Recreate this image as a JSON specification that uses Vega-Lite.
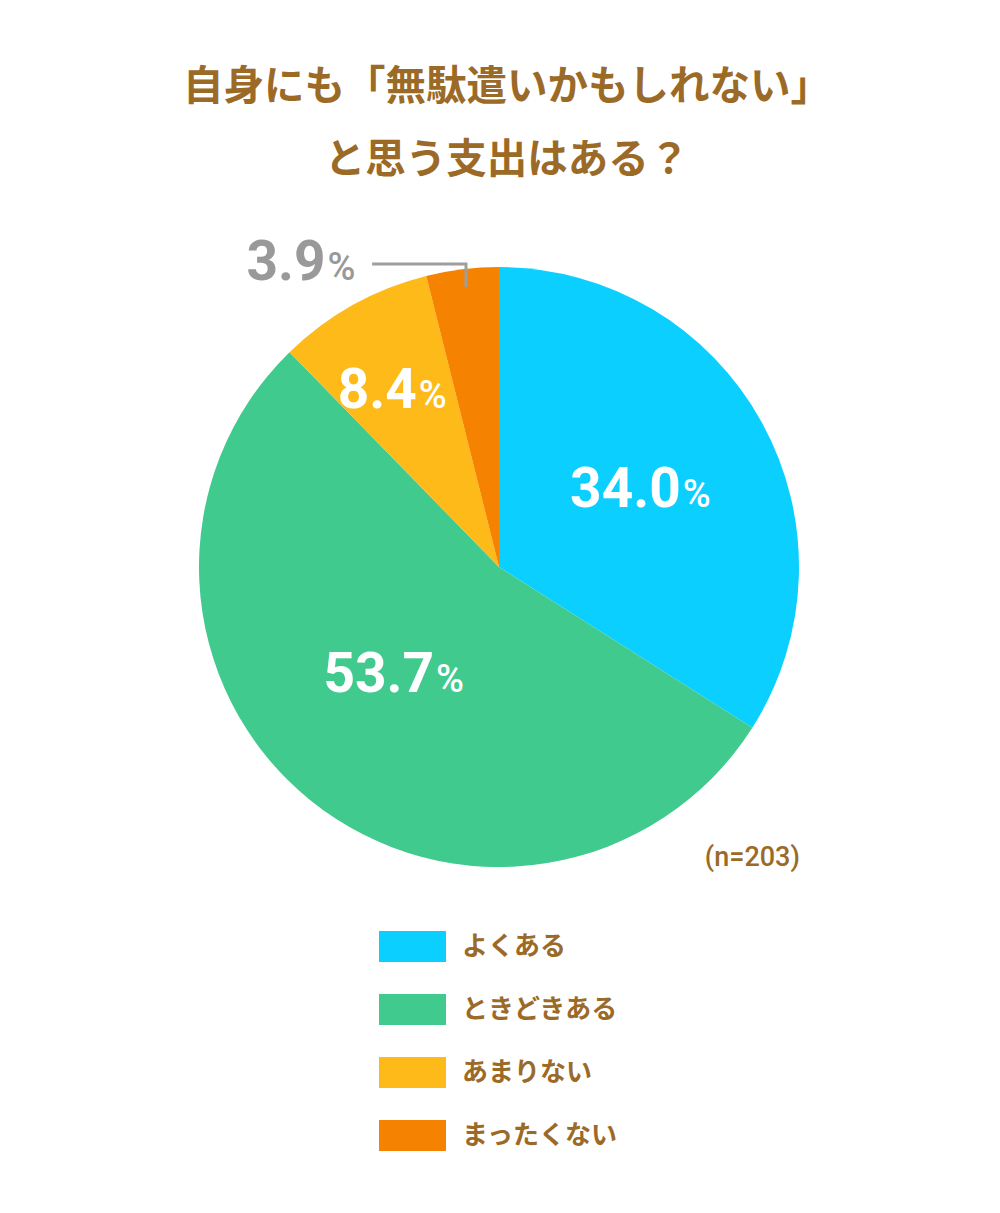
{
  "$schema": "https://vega.github.io/schema/vega-lite/v6.json",
  "width": 600,
  "height": 600,
  "autosize": {"type": "none"},
  "padding": {"left": 199, "top": 267, "right": 201, "bottom": 346},
  "background": "white",
  "config": {"view": {"stroke": null}},
  "title": {
    "text": ["自身にも「無駄遣いかもしれない」", "と思う支出はある？"],
    "font": "Noto Sans CJK JP",
    "fontSize": 40.5,
    "fontWeight": "bold",
    "color": "#9B6A27",
    "lineHeight": 73,
    "offset": 55,
    "dx": 8,
    "anchor": "middle"
  },
  "datasets": {
    "answers": [
      {"k": 1, "answer": "よくある", "pct": 34.0},
      {"k": 2, "answer": "ときどきある", "pct": 53.7},
      {"k": 3, "answer": "あまりない", "pct": 8.4},
      {"k": 4, "answer": "まったくない", "pct": 3.9}
    ],
    "leader": [
      {"p": 1, "x": -0.423, "y": 1.01},
      {"p": 2, "x": -0.11, "y": 1.01},
      {"p": 3, "x": -0.11, "y": 0.933}
    ],
    "notes": [
      {"x": 1.003, "y": -0.997, "note": "(n=203)"}
    ]
  },
  "layer": [
    {
      "data": {"name": "answers"},
      "encoding": {
        "theta": {"field": "pct", "type": "quantitative", "stack": true},
        "order": {"field": "k", "type": "quantitative"}
      },
      "layer": [
        {
          "mark": {"type": "arc", "outerRadius": 300},
          "encoding": {
            "color": {
              "field": "answer",
              "type": "nominal",
              "sort": ["よくある", "ときどきある", "あまりない", "まったくない"],
              "scale": {
                "domain": ["よくある", "ときどきある", "あまりない", "まったくない"],
                "range": ["#0BCFFF", "#40CA8E", "#FDBA19", "#F58200"]
              },
              "legend": {
                "orient": "none",
                "legendX": 180,
                "legendY": 646,
                "title": null,
                "direction": "vertical",
                "symbolType": "M-1,-0.463H1V0.463H-1Z",
                "symbolSize": 4489,
                "symbolStrokeWidth": 0,
                "symbolOpacity": 1,
                "labelFont": "Noto Sans CJK JP",
                "labelFontSize": 26,
                "labelFontWeight": "bold",
                "labelColor": "#9B6A27",
                "labelOffset": 16,
                "labelLimit": 400,
                "rowPadding": 13
              }
            }
          }
        },
        {
          "mark": {"type": "text", "radius": 188, "dx": 17, "dy": 31, "align": "right", "baseline": "alphabetic", "font": "Roboto", "fontSize": 55, "fontWeight": "bold", "color": "white"},
          "encoding": {
            "detail": {"field": "answer"},
            "text": {"condition": {"test": "datum.k == 1", "field": "pct", "type": "quantitative", "format": ".1f"}, "value": ""}
          }
        },
        {
          "mark": {"type": "text", "radius": 188, "dx": 19, "dy": 31, "align": "left", "baseline": "alphabetic", "font": "Roboto", "fontSize": 38, "fontWeight": 500, "color": "white"},
          "encoding": {
            "detail": {"field": "answer"},
            "text": {"condition": {"test": "datum.k == 1", "value": "%"}, "value": ""}
          }
        },
        {
          "mark": {"type": "text", "radius": 138, "dx": 22, "dy": 18, "align": "right", "baseline": "alphabetic", "font": "Roboto", "fontSize": 55, "fontWeight": "bold", "color": "white"},
          "encoding": {
            "detail": {"field": "answer"},
            "text": {"condition": {"test": "datum.k == 2", "field": "pct", "type": "quantitative", "format": ".1f"}, "value": ""}
          }
        },
        {
          "mark": {"type": "text", "radius": 138, "dx": 24, "dy": 18, "align": "left", "baseline": "alphabetic", "font": "Roboto", "fontSize": 38, "fontWeight": 500, "color": "white"},
          "encoding": {
            "detail": {"field": "answer"},
            "text": {"condition": {"test": "datum.k == 2", "value": "%"}, "value": ""}
          }
        },
        {
          "mark": {"type": "text", "radius": 179, "dx": 5, "dy": -3, "align": "right", "baseline": "alphabetic", "font": "Roboto", "fontSize": 55, "fontWeight": "bold", "color": "white"},
          "encoding": {
            "detail": {"field": "answer"},
            "text": {"condition": {"test": "datum.k == 3", "field": "pct", "type": "quantitative", "format": ".1f"}, "value": ""}
          }
        },
        {
          "mark": {"type": "text", "radius": 179, "dx": 7, "dy": -3, "align": "left", "baseline": "alphabetic", "font": "Roboto", "fontSize": 38, "fontWeight": 500, "color": "white"},
          "encoding": {
            "detail": {"field": "answer"},
            "text": {"condition": {"test": "datum.k == 3", "value": "%"}, "value": ""}
          }
        },
        {
          "mark": {"type": "text", "radius": 306, "dx": -136, "dy": 17, "align": "right", "baseline": "alphabetic", "font": "Roboto", "fontSize": 55, "fontWeight": "bold", "color": "#999999"},
          "encoding": {
            "detail": {"field": "answer"},
            "text": {"condition": {"test": "datum.k == 4", "field": "pct", "type": "quantitative", "format": ".1f"}, "value": ""}
          }
        },
        {
          "mark": {"type": "text", "radius": 306, "dx": -134, "dy": 17, "align": "left", "baseline": "alphabetic", "font": "Roboto", "fontSize": 38, "fontWeight": 500, "color": "#999999"},
          "encoding": {
            "detail": {"field": "answer"},
            "text": {"condition": {"test": "datum.k == 4", "value": "%"}, "value": ""}
          }
        }
      ]
    },
    {
      "data": {"name": "leader"},
      "mark": {"type": "line", "color": "#9E9E9E", "strokeWidth": 3, "strokeCap": "butt", "strokeJoin": "miter"},
      "encoding": {
        "x": {"field": "x", "type": "quantitative", "scale": {"domain": [-1, 1], "nice": false, "zero": false}, "axis": null},
        "y": {"field": "y", "type": "quantitative", "scale": {"domain": [-1, 1], "nice": false, "zero": false}, "axis": null},
        "order": {"field": "p", "type": "quantitative"}
      }
    },
    {
      "data": {"name": "notes"},
      "mark": {"type": "text", "align": "right", "baseline": "alphabetic", "font": "Roboto", "fontSize": 27, "fontWeight": 500, "color": "#9B6A27"},
      "encoding": {
        "x": {"field": "x", "type": "quantitative", "scale": {"domain": [-1, 1], "nice": false, "zero": false}, "axis": null},
        "y": {"field": "y", "type": "quantitative", "scale": {"domain": [-1, 1], "nice": false, "zero": false}, "axis": null},
        "text": {"field": "note"}
      }
    }
  ]
}
